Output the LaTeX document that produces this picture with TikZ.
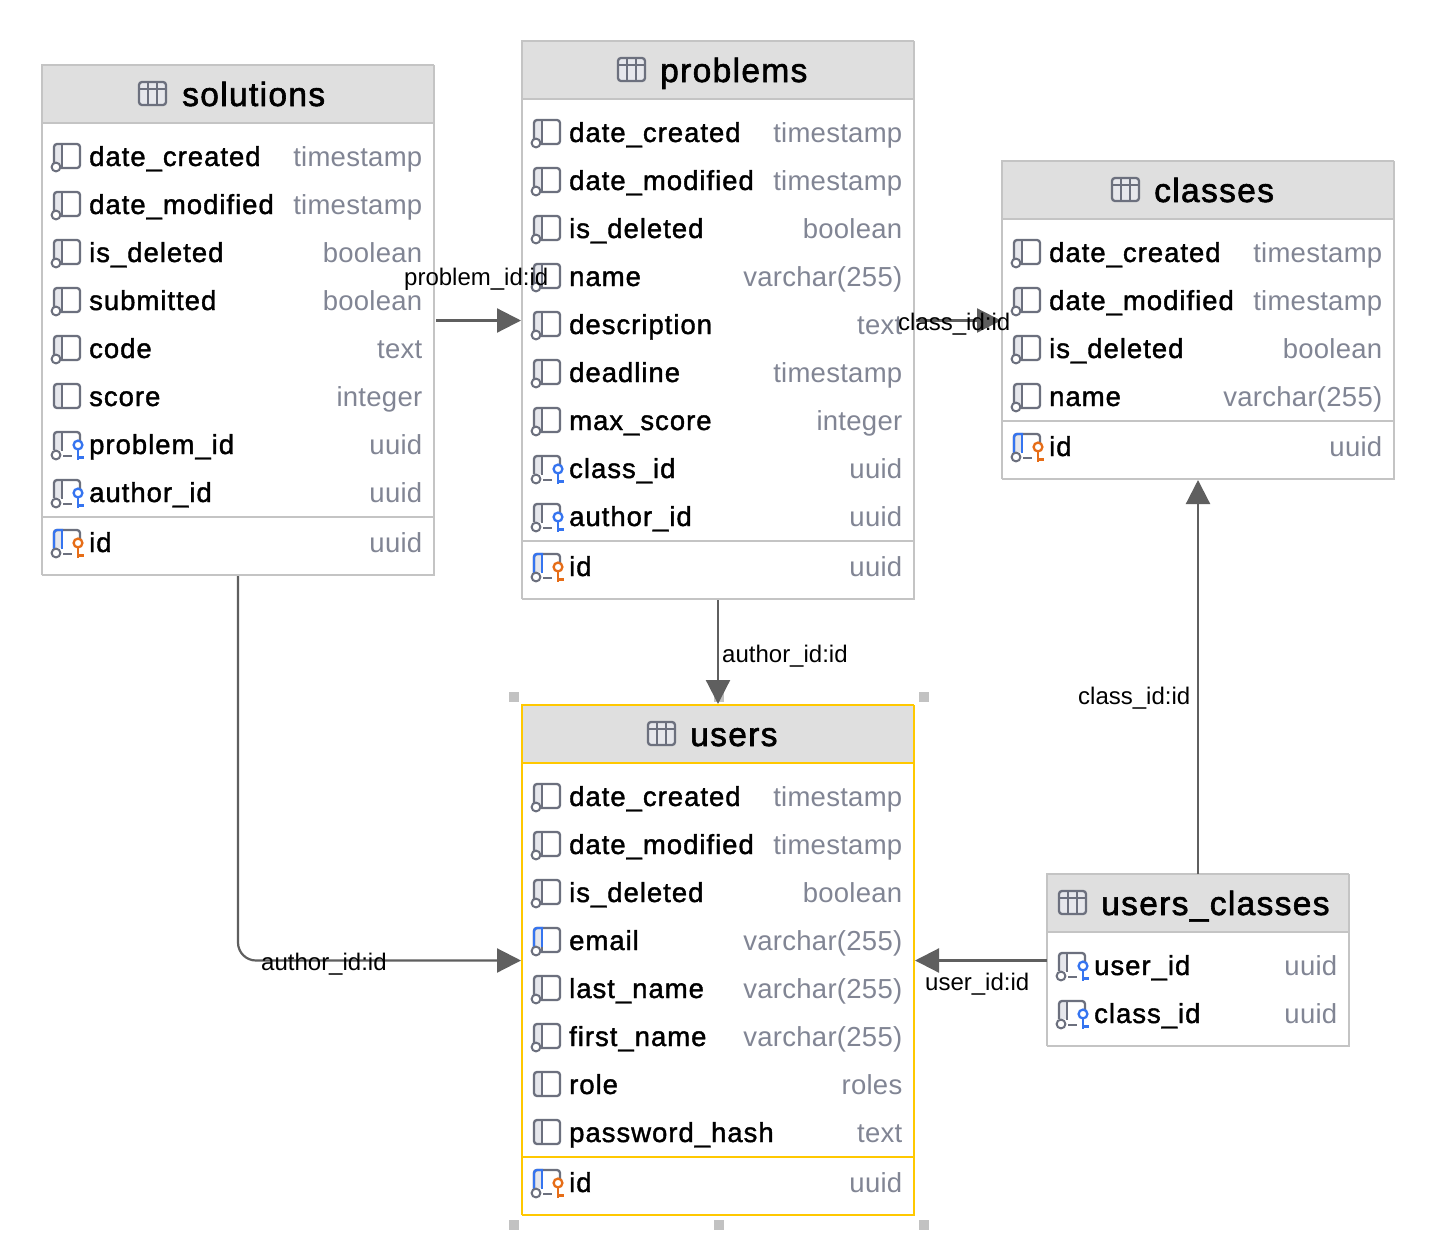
\documentclass[tikz,border=0pt]{standalone}
\usepackage{fontspec}
\setmainfont{Liberation Sans}
\newfontfamily\colfont[LetterSpace=3.6,FakeBold=1.4]{Liberation Sans}
\newfontfamily\typefont[LetterSpace=1]{Liberation Sans}
\newfontfamily\titlefont[LetterSpace=4,FakeBold=1.8]{Liberation Sans}
\usetikzlibrary{arrows.meta}
\definecolor{hdr}{HTML}{DFDFDF}
\definecolor{bord}{HTML}{C4C4C4}
\definecolor{sel}{HTML}{FFC800}
\definecolor{ink}{HTML}{6C707E}
\definecolor{pale}{HTML}{E6E7EC}
\definecolor{tgray}{HTML}{818594}
\definecolor{blu}{HTML}{3574F0}
\definecolor{org}{HTML}{E66D17}
\definecolor{conn}{HTML}{5F5F5F}
\definecolor{handle}{HTML}{C2C2C2}
\tikzset{
  x=1pt,y=-1pt,
  tablebox/.style={draw=none,fill=white,outer sep=0pt,inner sep=0pt},
  headbox/.style={draw=none,fill=hdr,outer sep=0pt,inner sep=0pt},
  colname/.style={anchor=base west,inner sep=0pt,font=\colfont\fontsize{27.5}{30}\selectfont,text=black},
  coltype/.style={anchor=base east,inner sep=0pt,font=\typefont\fontsize{27.5}{30}\selectfont,text=tgray},
  titletext/.style={anchor=base west,inner sep=0pt,font=\titlefont\fontsize{33.5}{36}\selectfont,text=black},
  edgelabel/.style={anchor=base west,inner sep=0pt,font=\fontsize{24}{26}\selectfont,text=black},
  iconline/.style={draw=ink,line width=2.3pt},
  link/.style={draw=conn,line width=2.2pt,-{Triangle[length=24pt,width=24pt]}},
  grip/.style={fill=handle,draw=none,minimum size=10pt,inner sep=0pt,outer sep=0pt},
}
\newcommand\iconbody[1]{%
  \fill[pale] (#1+12,-12) rectangle (#1+20,10);
  \draw[iconline,rounded corners=3pt] (#1+12,-13) rectangle (#1+38,11);
  \draw[iconline] (#1+20,-13) -- (#1+20,11);}
\newcommand\iconring[1]{\draw[iconline,fill=white,line width=2pt] (#1+14,10) circle (4.4);}
\newcommand\iconopen[2]{%
  \fill[pale] (#1+12,-12) rectangle (#1+20,5);
  \draw[iconline,rounded corners=3pt] (#1+12,5) -- (#1+12,-13) -- (#1+38,-13) -- (#1+38,-4);
  \draw[iconline] (#1+20,-13) -- (#1+20,6);
  \draw[iconline] (#1+21,11) -- (#1+30,11);
  \draw[draw=#2,line width=2.3pt] (#1+36,0) circle (4.4);
  \draw[draw=#2,line width=2.3pt] (#1+36,5) -- (#1+36,15) (#1+36,12.5) -- (#1+42,12.5);}
\newcommand\bluebar[1]{%
  \draw[blu,line width=2.3pt,rounded corners=3pt] (#1+12,6) -- (#1+12,-13) -- (#1+21,-13);
  \draw[blu,line width=2.3pt] (#1+20,-13) -- (#1+20,6);}
\newcommand\rowicon[2]{%
  \ifx#2P\iconbody{#1}\fi
  \ifx#2N\iconbody{#1}\iconring{#1}\fi
  \ifx#2E\iconbody{#1}\bluebar{#1}\iconring{#1}\fi
  \ifx#2F\iconopen{#1}{blu}\iconring{#1}\fi
  \ifx#2K\iconopen{#1}{org}\bluebar{#1}\iconring{#1}\fi}
% table, x left, y top, width, height, border, icon x, title x, title
\newcommand\dbtable[9]{%
  \node[tablebox,minimum width=#4pt,minimum height=#5pt] (#1) at (#2+#4/2,#3+#5/2) {};
  \node[headbox,minimum width=#4pt,minimum height=58pt] (#1-head) at (#2+#4/2,#3+29) {};
  \draw[draw=#6,line width=1.2pt] (#1.north east) -- (#1.south east) -- (#1.south west);
  \draw[draw=#6,line width=2pt] (#1.south west) -- (#1.north west) -- (#1.north east);
  \draw[draw=#6,line width=2pt] (#1-head.south west) -- (#1-head.south east);
  \begin{scope}[shift={(#7,#3+29)}]
    \draw[iconline,fill=pale,rounded corners=3pt] (0,-12) rectangle (27,11);
    \draw[iconline,line width=1.8pt] (0,-5) -- (27,-5) (9,-12) -- (9,11) (18,-12) -- (18,11);
  \end{scope}
  \node[titletext] (#1-title) at (#8,#3+41) {\detokenize{#9}};}
% table name, table x, width, y centre, column, type, icon
\newcommand\colrow[7]{%
  \begin{scope}[shift={(#2,#4)}]\rowicon{0}{#7}\end{scope}
  \node[colname] (#1-#5) at (#2+47,#4+9) {\detokenize{#5}};
  \node[coltype] (#1-#5-type) at (#2+#3-11.5,#4+9) {\detokenize{#6}};}
\newcommand\splitline[4]{\draw[draw=#4,line width=2pt] (#1,#3) -- (#1+#2,#3);}
\begin{document}
\begin{tikzpicture}
\useasboundingbox[fill=white] (0,0) rectangle (1436,1256);

% selection handles
\node[grip] (h1) at (514,697) {};
\node[grip] (h2) at (719,697) {};
\node[grip] (h3) at (924,697) {};
\node[grip] (h4) at (514,1225) {};
\node[grip] (h5) at (719,1225) {};
\node[grip] (h6) at (924,1225) {};

% solutions
\dbtable{solutions}{42}{65}{392}{510}{bord}{139}{182}{solutions}
\colrow{solutions}{42}{392}{157}{date_created}{timestamp}{N}
\colrow{solutions}{42}{392}{205}{date_modified}{timestamp}{N}
\colrow{solutions}{42}{392}{253}{is_deleted}{boolean}{N}
\colrow{solutions}{42}{392}{301}{submitted}{boolean}{N}
\colrow{solutions}{42}{392}{349}{code}{text}{N}
\colrow{solutions}{42}{392}{397}{score}{integer}{P}
\colrow{solutions}{42}{392}{445}{problem_id}{uuid}{F}
\colrow{solutions}{42}{392}{493}{author_id}{uuid}{F}
\splitline{42}{392}{517}{bord}
\colrow{solutions}{42}{392}{543}{id}{uuid}{K}

% problems
\dbtable{problems}{522}{41}{392}{558}{bord}{618}{660}{problems}
\colrow{problems}{522}{392}{133}{date_created}{timestamp}{N}
\colrow{problems}{522}{392}{181}{date_modified}{timestamp}{N}
\colrow{problems}{522}{392}{229}{is_deleted}{boolean}{N}
\colrow{problems}{522}{392}{277}{name}{varchar(255)}{N}
\colrow{problems}{522}{392}{325}{description}{text}{N}
\colrow{problems}{522}{392}{373}{deadline}{timestamp}{N}
\colrow{problems}{522}{392}{421}{max_score}{integer}{N}
\colrow{problems}{522}{392}{469}{class_id}{uuid}{F}
\colrow{problems}{522}{392}{517}{author_id}{uuid}{F}
\splitline{522}{392}{541}{bord}
\colrow{problems}{522}{392}{567}{id}{uuid}{K}

% classes
\dbtable{classes}{1002}{161}{392}{318}{bord}{1112}{1154}{classes}
\colrow{classes}{1002}{392}{253}{date_created}{timestamp}{N}
\colrow{classes}{1002}{392}{301}{date_modified}{timestamp}{N}
\colrow{classes}{1002}{392}{349}{is_deleted}{boolean}{N}
\colrow{classes}{1002}{392}{397}{name}{varchar(255)}{N}
\splitline{1002}{392}{421}{bord}
\colrow{classes}{1002}{392}{447}{id}{uuid}{K}

% users
\dbtable{users}{522}{705}{392}{510}{sel}{648}{690}{users}
\colrow{users}{522}{392}{797}{date_created}{timestamp}{N}
\colrow{users}{522}{392}{845}{date_modified}{timestamp}{N}
\colrow{users}{522}{392}{893}{is_deleted}{boolean}{N}
\colrow{users}{522}{392}{941}{email}{varchar(255)}{E}
\colrow{users}{522}{392}{989}{last_name}{varchar(255)}{N}
\colrow{users}{522}{392}{1037}{first_name}{varchar(255)}{N}
\colrow{users}{522}{392}{1085}{role}{roles}{P}
\colrow{users}{522}{392}{1133}{password_hash}{text}{P}
\splitline{522}{392}{1157}{sel}
\colrow{users}{522}{392}{1183}{id}{uuid}{K}

% users_classes
\dbtable{usersclasses}{1047}{874}{302}{172}{bord}{1059}{1101}{users_classes}
\colrow{usersclasses}{1047}{302}{966}{user_id}{uuid}{F}
\colrow{usersclasses}{1047}{302}{1014}{class_id}{uuid}{F}

% connectors
\coordinate (levelA) at (0,320.5);
\coordinate (levelB) at (0,960.5);
\draw[link] ([xshift=2pt]solutions.east |- levelA) -- ([xshift=-1pt]problems.west |- levelA);
\draw[link] ([xshift=2pt]problems.east |- levelA) -- ([xshift=-1pt]classes.west |- levelA);
\draw[link] ([yshift=-1pt]problems.south) -- ([yshift=1pt]users.north);
\draw[link,rounded corners=18pt] ([yshift=-1pt]solutions.south) -- (solutions.south |- levelB) -- ([xshift=-1pt]users.west |- levelB);
\draw[link] (usersclasses.west |- levelB) -- ([xshift=1pt]users.east |- levelB);
\draw[link] (usersclasses.north) -- ([yshift=-1pt]classes.south);

% connector labels
\node[edgelabel] (l1) at (404,285) {\detokenize{problem_id:id}};
\node[edgelabel] (l2) at (898,330) {\detokenize{class_id:id}};
\node[edgelabel] (l3) at (722,662) {\detokenize{author_id:id}};
\node[edgelabel] (l4) at (1078,704) {\detokenize{class_id:id}};
\node[edgelabel] (l5) at (261,970) {\detokenize{author_id:id}};
\node[edgelabel] (l6) at (925,990) {\detokenize{user_id:id}};
\end{tikzpicture}
\end{document}
